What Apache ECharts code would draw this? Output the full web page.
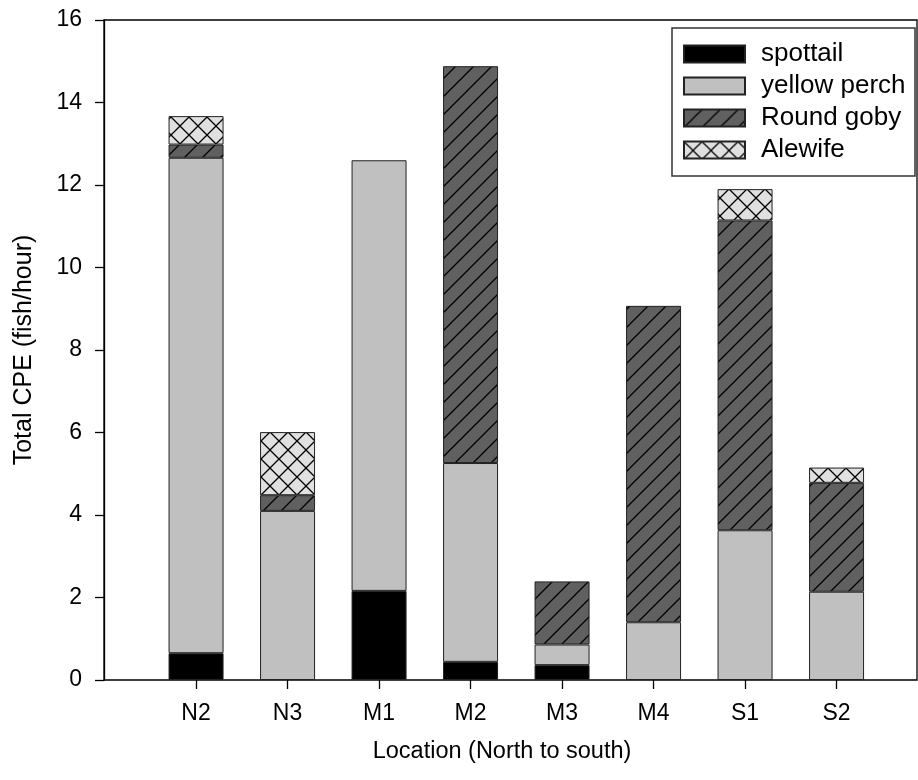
<!DOCTYPE html>
<html>
<head>
<meta charset="utf-8">
<script src="https://cdn.jsdelivr.net/npm/echarts@6/dist/echarts.min.js"></script>
<style>
html,body{margin:0;padding:0;background:#fff;}
#chart{width:918px;height:780px;}
</style>
</head>
<body>
<div id="chart"></div>
<script>
const categories = ['N2', 'N3', 'M1', 'M2', 'M3', 'M4', 'S1', 'S2'];
const spottail = [0.65, 0, 2.16, 0.44, 0.36, 0, 0, 0];
const yellowPerch = [12.01, 4.10, 10.44, 4.82, 0.50, 1.40, 3.63, 2.14];
const roundGoby = [0.32, 0.38, 0, 9.62, 1.53, 7.67, 7.51, 2.64];
const alewife = [0.69, 1.53, 0, 0, 0, 0, 0.76, 0.37];
const yTicks = [0, 2, 4, 6, 8, 10, 12, 14, 16];

const FONT = '"Liberation Sans", Arial, sans-serif';

function makeTile(bg, diag1, diag2) {
  const s = 18;
  const c = document.createElement('canvas');
  c.width = s; c.height = s;
  const g = c.getContext('2d');
  g.fillStyle = bg;
  g.fillRect(0, 0, s, s);
  g.strokeStyle = '#000';
  g.lineWidth = 1.3;
  g.beginPath();
  if (diag1) {
    g.moveTo(-2, s + 2); g.lineTo(s + 2, -2);
    g.moveTo(-2, 2); g.lineTo(2, -2);
    g.moveTo(s - 2, s + 2); g.lineTo(s + 2, s - 2);
  }
  if (diag2) {
    g.moveTo(-2, -2); g.lineTo(s + 2, s + 2);
    g.moveTo(s - 2, -2); g.lineTo(s + 2, 2);
    g.moveTo(-2, s - 2); g.lineTo(2, s + 2);
  }
  g.stroke();
  return c;
}

const gobyPattern = { image: makeTile('#606060', true, false), repeat: 'repeat' };
const alewifePattern = { image: makeTile('#e0e0e0', true, true), repeat: 'repeat' };

const nz = arr => arr.map(v => (v === 0 ? '-' : v));

function barSeries(name, data, color) {
  return {
    name: name,
    type: 'bar',
    stack: 'total',
    xAxisIndex: 1,
    yAxisIndex: 1,
    barWidth: 55,
    data: nz(data),
    itemStyle: { color: color, borderColor: '#222', borderWidth: 1 },
    emphasis: { disabled: true },
    animation: false
  };
}

const chart = echarts.init(document.getElementById('chart'), null, { renderer: 'canvas' });
chart.setOption({
  animation: false,
  backgroundColor: '#fff',
  textStyle: { fontFamily: FONT },
  grid: [
    { left: 104, right: 1, top: 20, bottom: 100, show: true, borderColor: '#000', borderWidth: 1.3, containLabel: false },
    { left: 150.3, right: 35.7, top: 20, bottom: 100, containLabel: false }
  ],
  xAxis: [
    { type: 'value', gridIndex: 0, min: 0, max: 1, show: false },
    {
      type: 'category', gridIndex: 1, data: categories,
      axisLine: { show: false },
      axisTick: { show: true, alignWithLabel: true, length: 9, lineStyle: { color: '#000', width: 1.3 } },
      axisLabel: { color: '#000', fontSize: 23, fontFamily: FONT, margin: 22 },
      splitLine: { show: false }
    }
  ],
  yAxis: [
    {
      type: 'value', gridIndex: 0, min: 0, max: 16, interval: 2,
      axisLine: { show: true, lineStyle: { color: '#000', width: 1.3 } },
      axisTick: { show: true, length: 9, lineStyle: { color: '#000', width: 1.3 } },
      axisLabel: { color: '#000', fontSize: 23, fontFamily: FONT, margin: 22,
        customValues: yTicks },
      splitLine: { show: false }
    },
    { type: 'value', gridIndex: 1, min: 0, max: 16, interval: 2, show: false }
  ],
  legend: {
    orient: 'vertical',
    left: 683,
    top: 40,
    padding: 0,
    itemWidth: 61,
    itemHeight: 17,
    itemGap: 4,
    icon: 'rect',
    selectedMode: false,
    textStyle: { color: '#000', fontSize: 26, lineHeight: 28, fontFamily: FONT, padding: [0, 0, 0, 11] },
    data: ['spottail', 'yellow perch', 'Round goby', 'Alewife']
  },
  graphic: [
    { type: 'rect', shape: { x: 672, y: 28, width: 243, height: 148 },
      style: { fill: 'none', stroke: '#333', lineWidth: 1.5 }, z: 100, silent: true },
    { type: 'text', x: 502, y: 752,
      style: { text: 'Location (North to south)', font: '23.5px ' + FONT, fill: '#000',
        textAlign: 'center', textVerticalAlign: 'middle' }, silent: true },
    { type: 'text', x: 24, y: 350, rotation: Math.PI / 2,
      style: { text: 'Total CPE (fish/hour)', font: '25px ' + FONT, fill: '#000',
        textAlign: 'center', textVerticalAlign: 'middle' }, silent: true }
  ],
  series: [
    barSeries('spottail', spottail, '#000000'),
    barSeries('yellow perch', yellowPerch, '#c0c0c0'),
    barSeries('Round goby', roundGoby, gobyPattern),
    barSeries('Alewife', alewife, alewifePattern)
  ]
});
</script>
</body>
</html>
